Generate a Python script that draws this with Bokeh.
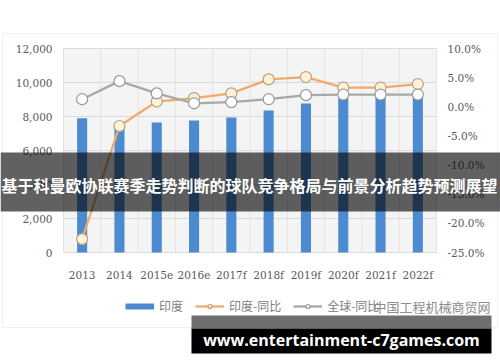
import numpy as np
from bokeh.plotting import figure
from bokeh.models import (Range1d, LinearAxis, FixedTicker, NumeralTickFormatter,
                          PrintfTickFormatter, BoxAnnotation, Label, Legend, LegendItem)
from bokeh.embed import file_html
from bokeh.resources import INLINE

# ---- data ----
years = ["2013", "2014", "2015e", "2016e", "2017f", "2018f", "2019f", "2020f", "2021f", "2022f"]
india = [7900, 7350, 7650, 7760, 7940, 8350, 8760, 9060, 9250, 9400]
india_yoy = [-22.7, -3.3, 0.9, 1.5, 2.3, 4.7, 5.1, 3.3, 3.3, 3.9]
global_yoy = [1.3, 4.4, 2.3, 0.6, 0.8, 1.3, 2.0, 2.1, 2.1, 2.1]
left_ticks = [0, 2000, 4000, 6000, 8000, 10000, 12000]
right_ticks = [-25, -20, -15, -10, -5, 0, 5, 10]
legend_labels = ["印度", "印度-同比", "全球-同比"]
title_text = "基于科曼欧协联赛季走势判断的球队竞争格局与前景分析趋势预测展望"
url_text = "www.entertainment-c7games.com"
watermark = "中国工程机械商贸网"

n = len(years)
xs = [i + 0.5 for i in range(n)]

# ---- layout (pixels of the 500x362 canvas) ----
W, H = 500, 362
PL, PR, PT, PB = 63, 436, 48, 252          # plot-area edges
ymin, ymax = left_ticks[0], left_ticks[-1]
rmin, rmax = right_ticks[0], right_ticks[-1]
xpp = n / (PR - PL)
ypp = (ymax - ymin) / (PB - PT)
rpp = (rmax - rmin) / (PB - PT)
x_range = Range1d(0 - PL * xpp, n + (W - PR) * xpp)
y_range = Range1d(ymin - (H - PB) * ypp, ymax + PT * ypp)
r_range = Range1d(rmin - (H - PB) * rpp, rmax + PT * rpp)

BLUE = "#4c8bcf"
ORANGE = "#f0aa6a"
GRAY = "#a8a8a8"
TICK = "#595959"
GRID = "#dadada"

p = figure(width=W, height=H, x_range=x_range, y_range=y_range,
           x_axis_location=None, y_axis_location=None,
           output_backend="svg", toolbar_location=None, min_border=0,
           background_fill_color="white", border_fill_color="white", outline_line_color=None)
p.extra_y_ranges = {"pct": r_range}
p.xgrid.visible = False
p.ygrid.visible = False

# plot-area background and grid
p.add_layout(BoxAnnotation(left=0, right=n, bottom=ymin, top=ymax, fill_color="#f4f4f4",
                           fill_alpha=1, line_color=None, level="underlay"))
p.segment(x0=[0] * len(left_ticks), x1=[n] * len(left_ticks), y0=left_ticks, y1=left_ticks,
          line_color=GRID, line_width=1)
p.segment(x0=list(range(n + 1)), x1=list(range(n + 1)), y0=[ymin] * (n + 1),
          y1=[ymax] * (n + 1), line_color="#e3e3e3", line_width=1)

bars = p.vbar(x=xs, top=india, width=0.27, fill_color=BLUE, line_color=None)
l1 = p.line(xs, india_yoy, y_range_name="pct", line_color=ORANGE, line_width=2.3)
s1 = p.scatter(xs, india_yoy, y_range_name="pct", size=11, fill_color="#fdf1d6",
               line_color="#b9a080", line_width=1.2)
l2 = p.line(xs, global_yoy, y_range_name="pct", line_color=GRAY, line_width=2.3)
s2 = p.scatter(xs, global_yoy, y_range_name="pct", size=11, fill_color="white",
               line_color="#999999", line_width=1.2)
# legend-only swatch for the bar series (no visible data)
leg_bar = p.line(xs[:2], [np.nan, np.nan], line_color=BLUE, line_width=6)

# axes (drawn at fixed data locations on the plot-area edges)
left = LinearAxis(ticker=FixedTicker(ticks=left_ticks), formatter=NumeralTickFormatter(format="0,0"),
                  fixed_location=0)
right = LinearAxis(y_range_name="pct", ticker=FixedTicker(ticks=right_ticks),
                   formatter=PrintfTickFormatter(format="%.1f%%"), fixed_location=n)
bottom = LinearAxis(ticker=FixedTicker(ticks=xs), fixed_location=ymin)
bottom.major_label_overrides = {x: y for x, y in zip(xs, years)}
for ax in [left, right, bottom]:
    ax.axis_line_color = None
    ax.major_tick_line_color = None
    ax.minor_tick_line_color = None
    ax.major_tick_out = 0
    ax.major_tick_in = 0
    ax.minor_tick_out = 0
    ax.major_label_text_font = "DejaVu Serif"
    ax.major_label_text_font_size = "10.5px"
    ax.major_label_text_color = TICK
left.major_label_standoff = 11
right.major_label_standoff = 11
bottom.major_label_standoff = 16
p.add_layout(left, "left")
p.add_layout(right, "right")
p.add_layout(bottom, "below")

legend = Legend(items=[LegendItem(label=legend_labels[0], renderers=[leg_bar]),
                       LegendItem(label=legend_labels[1], renderers=[l1, s1]),
                       LegendItem(label=legend_labels[2], renderers=[l2, s2])],
                orientation="horizontal", location=(125, 48),
                background_fill_alpha=0, border_line_color=None,
                label_text_font="Noto Sans CJK SC", label_text_font_size="12px",
                label_text_color="#808080", glyph_width=29, glyph_height=10,
                spacing=12, padding=0, margin=0, label_standoff=5)
p.add_layout(legend, "center")

def cbox(l, r, t, b, **kw):
    return BoxAnnotation(left=l, right=r, top=t, bottom=b, left_units="canvas",
                         right_units="canvas", top_units="canvas", bottom_units="canvas", **kw)

# chart frame border
p.add_layout(cbox(2, 497, 33, 327, fill_alpha=0, line_color="#d0d0d0", line_width=1))
# watermark
p.add_layout(Label(x=373, y=306, x_units="canvas", y_units="canvas", text=watermark,
                   text_align="left", text_baseline="middle", text_font="Noto Sans CJK SC",
                   text_font_size="13px", text_color="#8c8c8c",
                   background_fill_color="white", background_fill_alpha=0.75))
# title band
p.add_layout(cbox(0, W, 152, 211, fill_color="black", fill_alpha=0.62, line_color=None))
p.add_layout(Label(x=249, y=184, x_units="canvas", y_units="canvas", text=title_text,
                   text_align="center", text_baseline="middle", text_font="Noto Sans CJK SC",
                   text_font_size="16px", text_font_style="bold", text_color="white"))
# url box
p.add_layout(cbox(191, 491, 315, 328, fill_color="#6e6e6e", fill_alpha=1, line_color=None))
p.add_layout(cbox(191, 491, 328, 353, fill_color="black", fill_alpha=1, line_color=None))
p.add_layout(Label(x=341, y=339, x_units="canvas", y_units="canvas", text=url_text,
                   text_align="center", text_baseline="middle", text_font="Open Sans",
                   text_font_size="16px", text_font_style="bold", text_color="white"))

open("out.html", "w").write(file_html(p, INLINE))
